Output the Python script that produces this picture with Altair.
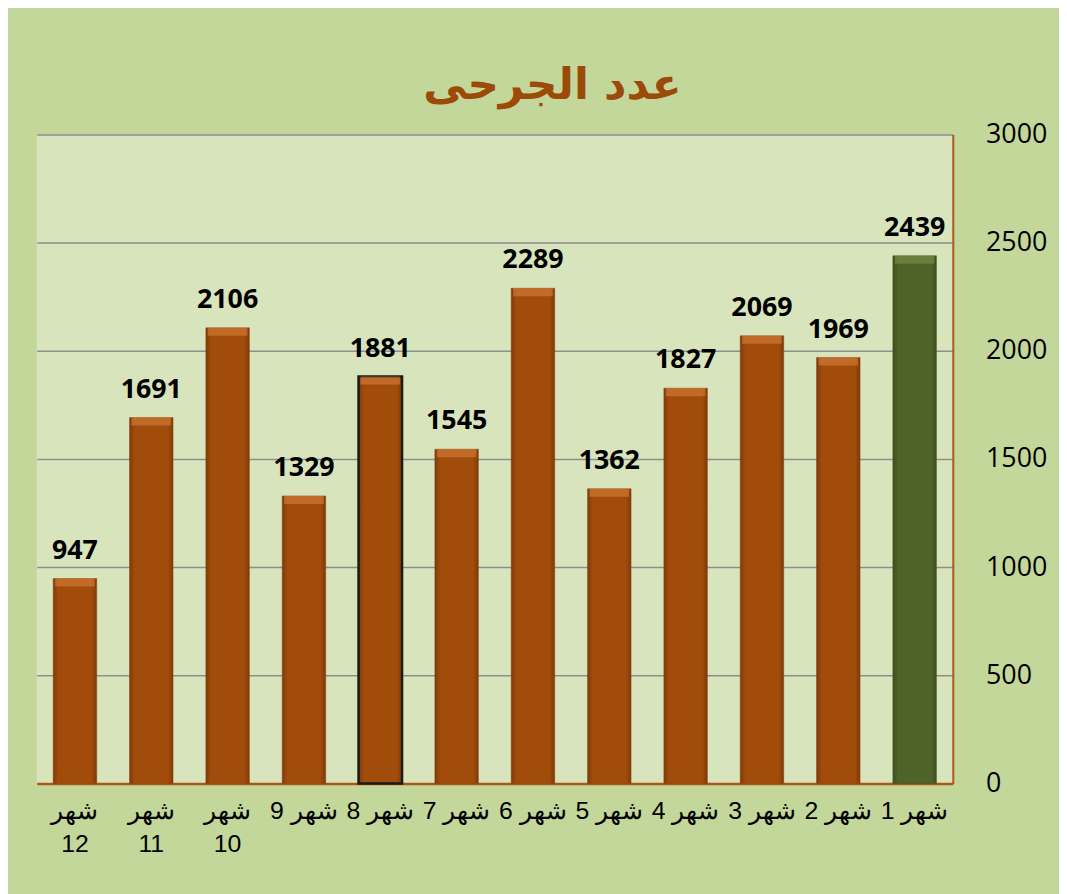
import altair as alt
import pandas as pd

# data (left to right as drawn)
month_labels = ["شهر\n12", "شهر\n11", "شهر\n10", "شهر 9", "شهر 8", "شهر 7",
                "شهر 6", "شهر 5", "شهر 4", "شهر 3", "شهر 2", "شهر 1"]
injured = [947, 1691, 2106, 1329, 1881, 1545, 2289, 1362, 1827, 2069, 1969, 2439]
group = ["past"] * 11 + ["latest"]
outlined = [False, False, False, False, True, False, False, False, False, False, False, False]
y_ticks = [0, 500, 1000, 1500, 2000, 2500, 3000]
title_text = "عدد الجرحى"

df = pd.DataFrame({"label": month_labels, "value": injured,
                   "group": group, "outlined": outlined})

x_enc = alt.X("label:N", sort=month_labels,
              scale=alt.Scale(paddingInner=0.43, paddingOuter=0.215),
              axis=alt.Axis(title=None, labelExpr="split(datum.label, '\\n')",
                            labelAngle=0, labelFontSize=25, labelFont="Liberation Sans",
                            labelColor="#000000", labelPadding=15, labelBaseline="top",
                            labelLineHeight=34, labelOverlap=False, ticks=False,
                            domainColor="#B0561A", domainWidth=2.5, grid=False))
y_enc = alt.Y("value:Q", scale=alt.Scale(domain=[0, 3000]),
              axis=alt.Axis(title=None, orient="right", values=y_ticks, format="d",
                            labelFontSize=27, labelFont="Open Sans", labelColor="#000000",
                            labelAlign="left", labelPadding=33, ticks=False,
                            domainColor="#B0561A", domainWidth=2,
                            gridColor="#8E8E8E", gridWidth=1.5))

orange_grad = alt.LinearGradient(
    gradient="linear", x1=0, x2=1, y1=0, y2=0,
    stops=[alt.GradientStop(offset=0, color="#7E3A08"),
           alt.GradientStop(offset=0.12, color="#A24C0B"),
           alt.GradientStop(offset=0.88, color="#A24C0B"),
           alt.GradientStop(offset=1, color="#7E3A08")])
green_grad = alt.LinearGradient(
    gradient="linear", x1=0, x2=1, y1=0, y2=0,
    stops=[alt.GradientStop(offset=0, color="#3E4F1E"),
           alt.GradientStop(offset=0.12, color="#4F6228"),
           alt.GradientStop(offset=0.88, color="#4F6228"),
           alt.GradientStop(offset=1, color="#3E4F1E")])

base = alt.Chart(df)

bars_orange = base.transform_filter(alt.datum.group == "past").mark_bar(
    fill=orange_grad).encode(
    x=x_enc, y=y_enc,
    stroke=alt.condition(alt.datum.outlined, alt.value("#1A1A1A"), alt.value("#8A4010")),
    strokeWidth=alt.condition(alt.datum.outlined, alt.value(2.5), alt.value(0.5)))

bars_green = base.transform_filter(alt.datum.group == "latest").mark_bar(
    fill=green_grad, stroke="#3E4F1E", strokeWidth=0.5).encode(x=x_enc, y=y_enc)

bevel = base.mark_tick(thickness=8, yOffset=4, opacity=0.45, size=40).encode(
    x=alt.X("label:N", sort=month_labels),
    y="value:Q",
    color=alt.condition(alt.datum.group == "latest", alt.value("#8BA352"), alt.value("#E8924C")))

labels = base.mark_text(font="Open Sans", fontWeight="bold", fontSize=27,
                        baseline="alphabetic", dy=-20, color="#000000").encode(
    x=alt.X("label:N", sort=month_labels), y="value:Q", text="value:Q")

chart = alt.layer(bars_orange, bars_green, bevel, labels).properties(
    width=923, height=654,
    title=alt.TitleParams(title_text, font="DejaVu Sans", fontSize=44, fontWeight="bold",
                          color="#9C4A08", anchor="middle", dx=58, dy=60, offset=38,
                          baseline="alphabetic"),
    autosize=alt.AutoSizeParams(type="none"),
    padding={"left": 29, "top": 124, "right": 107, "bottom": 108},
).configure(background="#C4D79B").configure_view(fill="#D8E4BC", strokeWidth=0)

chart.save("out.html", embed_options={"renderer": "svg", "actions": False})
